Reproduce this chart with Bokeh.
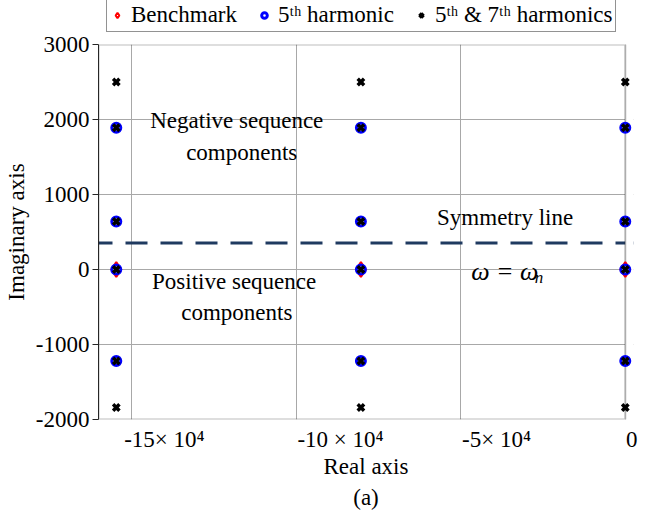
from bokeh.plotting import figure
from bokeh.layouts import column
from bokeh.models import (Range1d, FixedTicker, Span, Legend, LegendItem, Title,
                          ColumnDataSource, BoxAnnotation)
from bokeh.core.properties import value
from bokeh.embed import file_html
from bokeh.resources import INLINE

# ---------------- data ----------------
pole_re = [-15.46e4, -8.03e4, 0.0]          # real parts of the three pole columns

bench_im = [0]                              # Benchmark: imaginary parts per column
h5_im = [1890, 640, 0, -1220]               # 5th harmonic
h57_im = [2500, 1890, 640, 0, -1220, -1840] # 5th & 7th harmonics

symmetry_im = 355                           # symmetry line (omega = omega_n)

x_tick_values = [-15e4, -10e4, -5e4, 0]
x_tick_labels = ["-15\u00d7 10\u2074", "-10 \u00d7 10\u2074", "-5\u00d7 10\u2074", "0"]
y_tick_values = [-2000, -1000, 0, 1000, 2000, 3000]
y_tick_labels = ["-2000", "-1000", "0", "1000", "2000", "3000"]

legend_labels = ["Benchmark", "5\u1d57\u02b0 harmonic", "5\u1d57\u02b0 & 7\u1d57\u02b0 harmonics"]

# --------------- build sources ---------------
def grid_points(ims):
    xs, ys = [], []
    for r in pole_re:
        for im in ims:
            xs.append(r)
            ys.append(im)
    return dict(x=xs, y=ys)

src_b = ColumnDataSource(grid_points(bench_im))
src_5 = ColumnDataSource(grid_points(h5_im))
src_57 = ColumnDataSource(grid_points(h57_im))

SERIF = "Liberation Serif"
FS = "23px"
FRAME = "#262626"

STY_B = dict(marker="diamond", size=15, line_color="red", line_width=2, fill_color="white")
STY_5 = dict(marker="circle", size=9, line_color="blue", line_width=3, fill_color=None)
STY_57 = dict(marker="x", size=9, line_color="black", line_width=3.5)

# ---------------- main plot ----------------
x_end = 0.25e4   # a little room right of 0 so the markers on the 0 column are not clipped
p = figure(width=649, height=481, output_backend="svg", toolbar_location=None,
           x_range=Range1d(-16e4, x_end), y_range=Range1d(-2000, 3000),
           min_border_left=95, min_border_right=16, min_border_top=12, min_border_bottom=94)

p.background_fill_color = "white"
p.border_fill_color = "white"
p.outline_line_color = None

# grid
p.xgrid.ticker = FixedTicker(ticks=x_tick_values)
p.ygrid.ticker = FixedTicker(ticks=y_tick_values)
for g in (p.xgrid, p.ygrid):
    g.grid_line_color = "#a8a8a8"
    g.grid_line_width = 1

# x axis: labels centred where the reference prints them (right of each grid line)
label_shift = [1.0e4, 1.35e4, 1.09e4, 0.2e4]
x_label_pos = [v + s for v, s in zip(x_tick_values, label_shift)]
p.xaxis.ticker = FixedTicker(ticks=x_label_pos)
p.xaxis.major_label_overrides = {pos: lab for pos, lab in zip(x_label_pos, x_tick_labels)}
p.xaxis.major_tick_line_color = None
p.xaxis.minor_tick_line_color = None
p.xaxis.axis_line_color = None
p.xaxis.major_label_standoff = 1
p.xaxis.axis_label = "Real axis"

p.yaxis.ticker = FixedTicker(ticks=y_tick_values)
p.yaxis.major_label_overrides = {v: lab for v, lab in zip(y_tick_values, y_tick_labels)}
p.yaxis.major_tick_in = 0
p.yaxis.major_tick_out = 6
p.yaxis.major_tick_line_color = FRAME
p.yaxis.minor_tick_line_color = None
p.yaxis.axis_line_color = FRAME
p.yaxis.major_label_standoff = 3
p.yaxis.axis_label = "Imaginary axis"

for ax in (p.xaxis, p.yaxis):
    ax.major_label_text_font = SERIF
    ax.major_label_text_font_size = FS
    ax.major_label_text_color = "black"
    ax.axis_label_text_font = SERIF
    ax.axis_label_text_font_size = FS
    ax.axis_label_text_font_style = "normal"
    ax.axis_label_text_color = "black"
p.xaxis.axis_label_standoff = -1
p.yaxis.axis_label_standoff = 4

# symmetry line
p.add_layout(Span(location=symmetry_im, dimension="width", line_color="#1f3a60",
                  line_width=3, line_dash="22 13", line_dash_offset=8, level="underlay"))
# blank out the sliver right of 0, then draw the axes box ending at 0
p.add_layout(BoxAnnotation(left=0, fill_color="white", fill_alpha=1, line_color=None,
                           level="underlay"))
p.add_layout(BoxAnnotation(right=0, fill_color=None, fill_alpha=0, line_color=FRAME,
                           line_width=2, level="underlay"))

# markers
r_b = p.scatter("x", "y", source=src_b, **STY_B)
r_5 = p.scatter("x", "y", source=src_5, **STY_5)
r_57 = p.scatter("x", "y", source=src_57, **STY_57)

# annotations
ann_text = ["Negative sequence", "components", "Positive sequence", "components", "Symmetry line"]
ann_x = [-11.8e4, -11.65e4, -11.88e4, -11.8e4, -3.65e4]
ann_y = [1985, 1565, -160, -575, 700]
p.text(x=ann_x, y=ann_y, text=ann_text, text_font=value(SERIF), text_font_size=FS,
       text_align="center", text_baseline="alphabetic", text_color="black")

p.text(x=[-4.68e4], y=[-30], text=["\u03c9 = \u03c9"], text_font=value(SERIF),
       text_font_size="26px", text_font_style="italic", text_align="left",
       text_baseline="alphabetic", text_color="black")
p.text(x=[-2.75e4], y=[-110], text=["n"], text_font=value(SERIF),
       text_font_size="17px", text_font_style="italic", text_align="left",
       text_baseline="alphabetic", text_color="black")

p.add_layout(Title(text="(a)", align="center", text_font=SERIF, text_font_size=FS,
                   text_font_style="normal", text_color="black", standoff=3), "below")

# ---------------- legend strip above the plot ----------------
# same sources as the main plot, but ranges that exclude every point: only the legend shows
lf = figure(width=649, height=32, output_backend="svg", toolbar_location=None,
            x_range=Range1d(1e6, 2e6), y_range=Range1d(1e6, 2e6), min_border=0)
lf.axis.visible = False
lf.grid.visible = False
lf.outline_line_color = None
lf.background_fill_color = "white"
lf.border_fill_color = "white"
lb = lf.scatter("x", "y", source=src_b, **STY_B)
l5 = lf.scatter("x", "y", source=src_5, **STY_5)
l57 = lf.scatter("x", "y", source=src_57, **STY_57)
legend = Legend(items=[LegendItem(label=legend_labels[0], renderers=[lb]),
                       LegendItem(label=legend_labels[1], renderers=[l5]),
                       LegendItem(label=legend_labels[2], renderers=[l57])],
                orientation="horizontal", location=(8, 0),
                label_text_font=SERIF, label_text_font_size=FS, label_text_color="black",
                border_line_color=FRAME, border_line_width=1,
                background_fill_color="white", background_fill_alpha=1,
                glyph_width=14, glyph_height=14, label_standoff=7, spacing=20,
                padding=3, margin=0, label_height=21)
lf.add_layout(legend, "center")

layout = column(lf, p, spacing=0)
open("out.html", "w").write(file_html(layout, INLINE))
